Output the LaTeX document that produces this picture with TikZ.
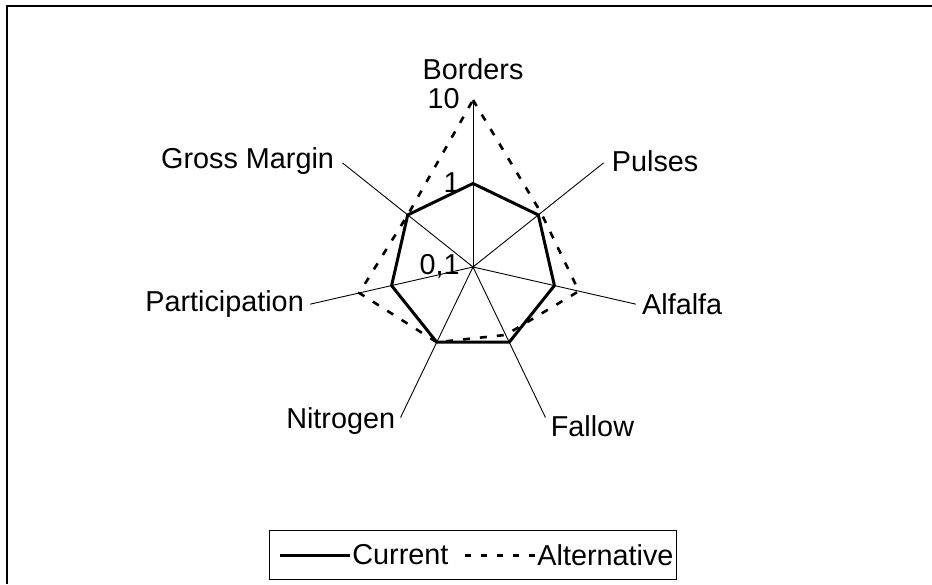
\documentclass[tikz,border=0pt]{standalone}
\usepackage{fontspec}
\setmainfont{Liberation Sans}
\usepackage{tikz}
\usetikzlibrary{positioning,calc}
\newcommand{\chartfont}{\fontsize{14.4}{16.5}\selectfont}

\begin{document}
\begin{tikzpicture}[
    x=0.5pt, y=0.5pt,
    spokeline/.style={draw=black, line width=0.45pt},
    currentline/.style={line width=1.5pt, line join=miter},
    altline/.style={line width=1.3pt, dash pattern=on 3.5pt off 5pt},
    spokelabel/.style={font=\chartfont, inner sep=1pt},
    ticklabel/.style={font=\chartfont, inner sep=0pt},
    legtext/.style={font=\chartfont, inner sep=1pt}
]
\useasboundingbox (0,0) rectangle (932,584);
\draw[line width=0.7pt] (932,578) -- (7,578) -- (7,0);

\coordinate (o) at (473,317);

% spokes, max = 10
\foreach \ang/\name in {90/bor, 38.57/pul, -12.86/alf, -64.29/fal,
                        -115.71/nit, -167.14/par, 141.43/gro}
  \draw[spokeline] (o) -- ++(\ang:167) coordinate (\name);

\node[spokelabel, above=9pt of bor] (borders) {Borders};
\node[spokelabel, right=3pt of pul, yshift=1pt] (pulses) {Pulses};
\node[spokelabel, right=2pt of alf] (alfalfa) {Alfalfa};
\node[spokelabel, anchor=north west, xshift=1.5pt, yshift=2pt] (fallow) at (fal) {Fallow};
\node[spokelabel, anchor=east, xshift=-1.5pt, yshift=-2pt] (nitrogen) at (nit) {Nitrogen};
\node[spokelabel, left=2pt of par] (participation) {Participation};
\node[spokelabel, left=3pt of gro, yshift=1pt] (grossmargin) {Gross Margin};

% log scale ticks on the Borders spoke
\foreach \r/\t/\name in {0/{0,1}/tlow, 83.5/1/tmid, 167/10/thigh}
  \node[ticklabel, anchor=east] (\name) at ($(o)+(90:\r)+(-13,1)$) {\t};

\begin{scope}[shift={(473,317)}]
  \draw[currentline] (90:83.5)
    \foreach \a in {38.57,-12.86,-64.29,-115.71,-167.14,141.43} { -- (\a:83.5) }
    -- cycle;
  \draw[altline] (90:167) -- (38.57:87) -- (-12.86:108.6) -- (-64.29:75.4)
    -- (-115.71:83.5) -- (-167.14:116.7) -- (141.43:83.5) -- cycle;
\end{scope}

% legend
\draw[line width=0.5pt] (269,54) rectangle (676,5);
\node[legtext, anchor=west] (curtext) at (350,29) {Current};
\node[legtext, anchor=west] (alttext) at (535,29) {Alternative};
\coordinate (curstart) at (280,29);
\coordinate (altstart) at (458,29);
\draw[currentline] (curstart) -- (curtext.west);
\draw[line width=1.5pt, dash pattern=on 3pt off 5pt] (alttext.west) -- (altstart);
\end{tikzpicture}
\end{document}
